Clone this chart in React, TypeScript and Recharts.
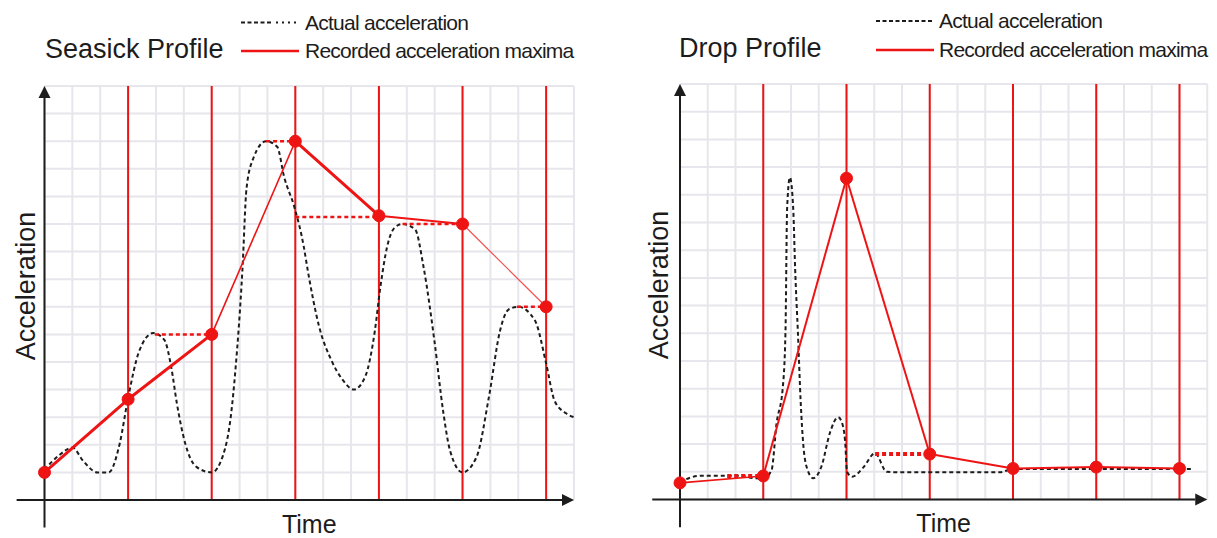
import React from 'react'
import { LineChart, Line, XAxis, YAxis, CartesianGrid, ReferenceLine } from 'recharts'

// all values are in cells of the paper grid (3 cells between two samples)
const TIME_TICKS = [0, 1, 2, 3, 4, 5, 6, 7, 8, 9, 10, 11, 12, 13, 14, 15, 16, 17, 18, 19]
const ACC_TICKS = [0, 1, 2, 3, 4, 5, 6, 7, 8, 9, 10, 11, 12, 13, 14]
const SAMPLE_TIMES = [3, 6, 9, 12, 15, 18]

const seasickActual = [
  { t: 0, a: 1.1 }, { t: 0.5, a: 1.6 }, { t: 1.0, a: 1.9 }, { t: 1.4, a: 1.4 }, { t: 1.9, a: 1.0 },
  { t: 2.3, a: 1.0 }, { t: 2.7, a: 2.05 }, { t: 3.0, a: 3.7 }, { t: 3.4, a: 5.4 }, { t: 3.9, a: 6.05 },
  { t: 4.3, a: 5.8 }, { t: 4.55, a: 4.8 }, { t: 4.75, a: 3.5 }, { t: 5.05, a: 2.05 }, { t: 5.45, a: 1.2 },
  { t: 6.0, a: 1.0 }, { t: 6.4, a: 1.6 }, { t: 6.7, a: 3.15 }, { t: 6.85, a: 4.7 }, { t: 7.1, a: 8.3 },
  { t: 7.25, a: 11.3 }, { t: 7.5, a: 12.4 }, { t: 7.95, a: 13.0 }, { t: 8.35, a: 12.8 }, { t: 8.6, a: 11.7 },
  { t: 8.97, a: 10.6 }, { t: 9.3, a: 9.2 }, { t: 9.45, a: 8.3 }, { t: 9.85, a: 6.3 }, { t: 10.3, a: 5.05 },
  { t: 10.7, a: 4.35 }, { t: 11.1, a: 4.0 }, { t: 11.5, a: 4.45 }, { t: 11.85, a: 6.1 }, { t: 12.05, a: 7.7 },
  { t: 12.3, a: 9.2 }, { t: 12.55, a: 9.85 }, { t: 12.85, a: 10.0 }, { t: 13.3, a: 9.8 }, { t: 13.6, a: 8.45 },
  { t: 14.0, a: 5.7 }, { t: 14.3, a: 3.25 }, { t: 14.55, a: 1.8 }, { t: 15.0, a: 1.0 }, { t: 15.5, a: 1.55 },
  { t: 15.95, a: 3.75 }, { t: 16.35, a: 6.15 }, { t: 16.65, a: 6.9 }, { t: 17.0, a: 7.0 }, { t: 17.6, a: 6.5 },
  { t: 18.0, a: 4.95 }, { t: 18.3, a: 3.6 }, { t: 18.7, a: 3.15 }, { t: 19.0, a: 3.0 },
]
const seasickMaxima = [
  { t: 0, a: 1.0 }, { t: 3, a: 3.65 }, { t: 6, a: 6.0 }, { t: 9, a: 13.0 },
  { t: 12, a: 10.3 }, { t: 15, a: 10.0 }, { t: 18, a: 7.0 },
]
const seasickHolds = [
  { from: 3.96, to: 6, a: 6.0 },
  { from: 7.95, to: 9, a: 13.0 },
  { from: 9, to: 12, a: 10.25 },
  { from: 12.85, to: 15, a: 10.0 },
  { from: 16.95, to: 18, a: 7.0 },
]

const dropActual = [
  { t: 0, a: 0.62 }, { t: 0.4, a: 0.8 }, { t: 0.8, a: 0.86 }, { t: 2.2, a: 0.86 }, { t: 2.6, a: 0.78 },
  { t: 3.0, a: 0.76 }, { t: 3.3, a: 1.06 }, { t: 3.48, a: 2.75 }, { t: 3.7, a: 4.0 }, { t: 3.8, a: 6.0 },
  { t: 3.86, a: 10.5 }, { t: 3.96, a: 11.63 }, { t: 4.08, a: 10.5 }, { t: 4.15, a: 8.3 }, { t: 4.25, a: 6.0 },
  { t: 4.35, a: 3.5 }, { t: 4.45, a: 1.9 }, { t: 4.6, a: 1.06 }, { t: 4.8, a: 0.77 }, { t: 5.1, a: 1.2 },
  { t: 5.4, a: 2.4 }, { t: 5.7, a: 2.97 }, { t: 5.86, a: 2.7 }, { t: 5.95, a: 2.1 }, { t: 6.02, a: 1.0 },
  { t: 6.2, a: 0.82 }, { t: 6.6, a: 1.15 }, { t: 7.03, a: 1.67 }, { t: 7.45, a: 1.0 }, { t: 8.0, a: 0.98 },
  { t: 11.5, a: 0.98 }, { t: 12.0, a: 1.1 }, { t: 18.45, a: 1.1 },
]
const dropMaxima = [
  { t: 0, a: 0.6 }, { t: 3, a: 0.85 }, { t: 6, a: 11.6 }, { t: 9, a: 1.64 },
  { t: 12, a: 1.12 }, { t: 15, a: 1.17 }, { t: 18, a: 1.12 },
]
const dropHolds = [
  { from: 1.7, to: 3, a: 0.85 },
  { from: 7.03, to: 9, a: 1.64 },
]

const RED = '#ee1414'
const INK = '#1c1c1c'
const FONT = "'Liberation Sans', Arial, sans-serif"

type Pt = { t: number; a: number }
type Hold = { from: number; to: number; a: number }

// axes keep their ticks for the grid, but draw no tick text
const NoTick = () => <g />

function ArrowAxis(props: any) {
  const { x1, y1, x2, y2 } = props
  const len = Math.hypot(x2 - x1, y2 - y1)
  const ux = (x2 - x1) / len
  const uy = (y2 - y1) / len
  const bx = x2 - ux * 12
  const by = y2 - uy * 12
  return (
    <g>
      <line x1={x1} y1={y1} x2={bx} y2={by} stroke={INK} strokeWidth={2} />
      <polygon
        points={`${x2},${y2} ${bx - uy * 6},${by + ux * 6} ${bx + uy * 6},${by - ux * 6}`}
        fill={INK}
      />
    </g>
  )
}

interface PanelProps {
  left: number
  width: number
  top: number
  right: number
  yAxisWidth: number
  xAxisHeight: number
  labelX: number
  labelY: number
  timeOffset: number
  actual: Pt[]
  maxima: Pt[]
  holds: Hold[]
  segWidths: number[]
  segColors: string[]
  holdWidth: number
  holdDash: string
}

function ProfileChart(p: PanelProps) {
  return (
    <div style={{ position: 'absolute', left: p.left, top: 0 }}>
      <LineChart
        width={p.width}
        height={538}
        margin={{ top: p.top, right: p.right, bottom: 0, left: 0 }}
      >
        <CartesianGrid stroke="#e6e6ec" strokeWidth={2} />
        <XAxis
          type="number"
          dataKey="t"
          domain={[0, 19]}
          ticks={TIME_TICKS}
          interval={0}
          tick={NoTick}
          tickLine={false}
          axisLine={false}
          height={p.xAxisHeight}
          label={{ value: 'Time', position: 'insideBottom', offset: p.timeOffset, fontSize: 25, fill: INK, fontFamily: FONT }}
        />
        <YAxis
          type="number"
          dataKey="a"
          domain={[0, 15]}
          ticks={ACC_TICKS}
          interval={0}
          tick={NoTick}
          tickLine={false}
          axisLine={false}
          width={p.yAxisWidth}
          label={{
            content: () => (
              <text
                x={p.labelX}
                y={p.labelY}
                transform={`rotate(-90 ${p.labelX} ${p.labelY})`}
                textAnchor="middle"
                fontSize={27}
                fontFamily={FONT}
                fill={INK}
              >
                Acceleration
              </text>
            ),
          }}
        />
        {SAMPLE_TIMES.map((t) => (
          <ReferenceLine key={`s-${t}`} x={t} stroke={RED} strokeWidth={2} />
        ))}
        <ReferenceLine
          segment={[{ x: 0, y: -1 }, { x: 0, y: 15 }]}
          ifOverflow="visible"
          shape={ArrowAxis}
        />
        <ReferenceLine
          segment={[{ x: -1, y: 0 }, { x: 19, y: 0 }]}
          ifOverflow="visible"
          shape={ArrowAxis}
        />
        <Line
          data={p.actual}
          dataKey="a"
          type="monotone"
          stroke={INK}
          strokeWidth={2}
          strokeDasharray="4 3"
          dot={false}
          isAnimationActive={false}
        />
        {p.holds.map((h, i) => (
          <Line
            key={`h-${i}`}
            data={[{ t: h.from, a: h.a }, { t: h.to, a: h.a }]}
            dataKey="a"
            stroke={RED}
            strokeWidth={p.holdWidth}
            strokeDasharray={p.holdDash}
            dot={false}
            isAnimationActive={false}
          />
        ))}
        {p.maxima.slice(0, -1).map((m, i) => (
          <Line
            key={`m-${i}`}
            data={[m, p.maxima[i + 1]]}
            dataKey="a"
            type="linear"
            stroke={p.segColors[i]}
            strokeWidth={p.segWidths[i]}
            dot={false}
            isAnimationActive={false}
          />
        ))}
        <Line
          data={p.maxima}
          dataKey="a"
          stroke="none"
          dot={{ r: 6, fill: RED, stroke: RED, strokeWidth: 1 }}
          isAnimationActive={false}
        />
      </LineChart>
    </div>
  )
}

function Header(props: { x: number; title: string; lineX: number; textX: number; rows: number[]; dotted: boolean }) {
  const [b1, b2] = props.rows
  return (
    <g fontFamily={FONT} fill={INK}>
      <text x={props.x} y={b2} fontSize={27}>{props.title}</text>
      {props.dotted ? (
        <>
          <line x1={props.lineX} y1={b1 - 7.5} x2={props.lineX + 32} y2={b1 - 7.5} stroke={INK} strokeWidth={2} strokeDasharray="4 2.5" />
          <line x1={props.lineX + 35} y1={b1 - 7.5} x2={props.lineX + 58} y2={b1 - 7.5} stroke={INK} strokeWidth={2} strokeDasharray="2 4" />
        </>
      ) : (
        <line x1={props.lineX} y1={b1 - 6.5} x2={props.lineX + 57} y2={b1 - 6.5} stroke={INK} strokeWidth={2} strokeDasharray="4 2.5" />
      )}
      <text x={props.textX} y={b1} fontSize={21} letterSpacing={-0.75}>Actual acceleration</text>
      <line x1={props.lineX} y1={b2 - 7} x2={props.lineX + 58} y2={b2 - 7} stroke={RED} strokeWidth={2.5} />
      <text x={props.textX} y={b2} fontSize={21} letterSpacing={-0.75}>Recorded acceleration maxima</text>
    </g>
  )
}

export default function App() {
  return (
    <div style={{ position: 'absolute', left: 0, top: 0, width: 1217, height: 538, background: '#fff', overflow: 'hidden' }}>
      <ProfileChart
        left={0}
        width={610}
        top={86}
        right={36}
        yAxisWidth={44.5}
        xAxisHeight={38}
        labelX={35}
        labelY={286}
        timeOffset={5}
        actual={seasickActual}
        maxima={seasickMaxima}
        holds={seasickHolds}
        segWidths={[3, 3, 1.6, 3, 2.2, 1.2]}
        segColors={[RED, RED, RED, RED, RED, '#f25050']}
        holdWidth={2.5}
        holdDash="4 3"
      />
      <ProfileChart
        left={635}
        width={582}
        top={84}
        right={9.75}
        yAxisWidth={45}
        xAxisHeight={38.5}
        labelX={33}
        labelY={285}
        timeOffset={6}
        actual={dropActual}
        maxima={dropMaxima}
        holds={dropHolds}
        segWidths={[1.6, 2, 2, 2, 2, 2]}
        segColors={[RED, RED, RED, RED, RED, RED]}
        holdWidth={4}
        holdDash="4 3"
      />
      <svg width={1217} height={538} style={{ position: 'absolute', left: 0, top: 0, pointerEvents: 'none' }}>
        <Header x={45} title="Seasick Profile" lineX={241} textX={305} rows={[30, 58]} dotted />
        <Header x={679} title="Drop Profile" lineX={876} textX={939} rows={[27.5, 57]} dotted={false} />
      </svg>
    </div>
  )
}
